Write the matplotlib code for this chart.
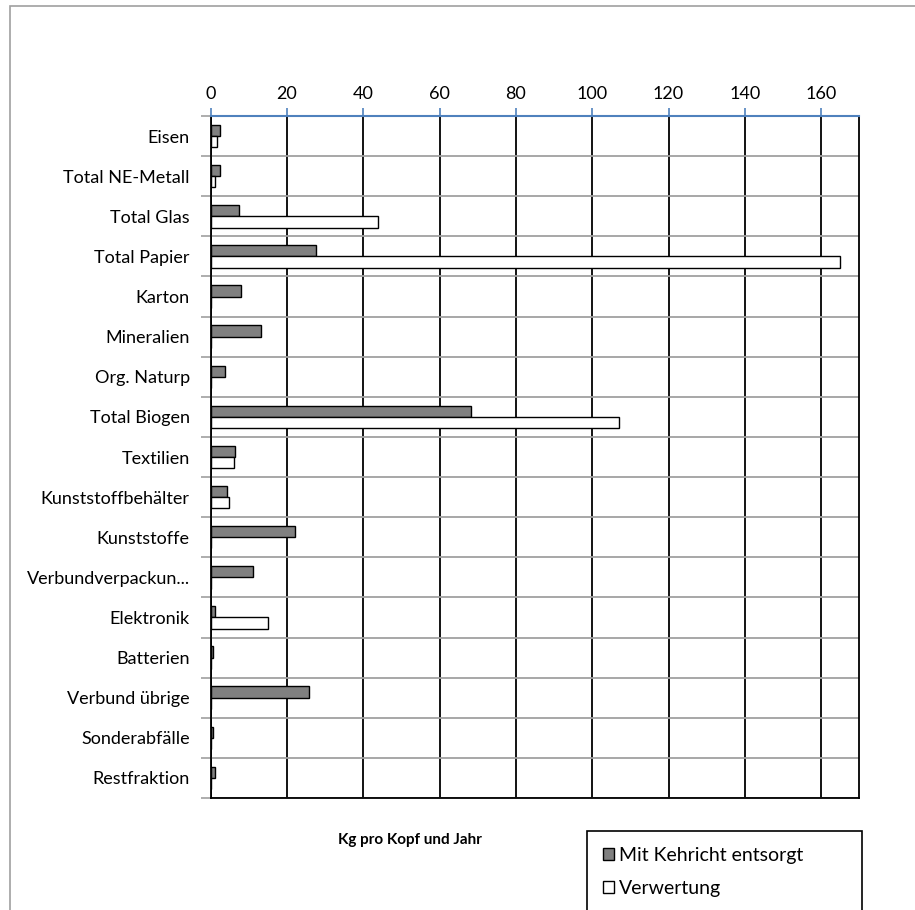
import matplotlib
matplotlib.use("Agg")
import matplotlib.pyplot as plt
from matplotlib.patches import Rectangle
import numpy as np

plt.rcParams['font.family'] = ['Lato', 'DejaVu Sans']

categories = ["Eisen", "Total NE-Metall", "Total Glas", "Total Papier", "Karton",
              "Mineralien", "Org. Naturp", "Total Biogen", "Textilien",
              "Kunststoffbehälter", "Kunststoffe", "Verbundverpackun...",
              "Elektronik", "Batterien", "Verbund übrige", "Sonderabfälle",
              "Restfraktion"]
kehricht = [2.5, 2.4, 7.5, 27.7, 8.0, 13.2, 3.7, 68.3, 6.4, 4.4, 22.1, 11.2,
            1.2, 0.5, 25.7, 0.5, 1.2]
verwertung = [1.7, 1.2, 43.9, 164.9, 0, 0, 0, 107.0, 6.0, 4.9, 0, 0,
              15.1, 0, 0, 0, 0]
series_names = ["Mit Kehricht entsorgt", "Verwertung"]
xticks = [0, 20, 40, 60, 80, 100, 120, 140, 160]
xlabel = "Kg pro Kopf und Jahr"

W, H = 915, 910
fig = plt.figure(figsize=(W / 100, H / 100), dpi=100)

# outer chart frame
fig.patches.append(Rectangle((10 / W, -0.1), 1.2, 1 - 6 / H + 0.1,
                             transform=fig.transFigure, fill=False,
                             edgecolor="#a0a0a0", linewidth=1.2, zorder=0))

ax = fig.add_axes([210.7 / W, 1 - 798 / H, (859.3 - 210.7) / W, (798 - 116) / H])

y = np.arange(len(categories))
h = 0.28
b1 = ax.barh(y - h / 2, kehricht, height=h, color="#808080", edgecolor="black",
             linewidth=1.0, label=series_names[0], zorder=3)
b2 = ax.barh(y + h / 2, verwertung, height=h, color="white", edgecolor="black",
             linewidth=1.0, label=series_names[1], zorder=3)

ax.set_xlim(0, 170)
ax.set_ylim(len(categories) - 0.5, -0.5)
ax.xaxis.tick_top()
ax.set_xticks(xticks)
ax.set_xticklabels([str(t) for t in xticks], fontsize=13)
ax.tick_params(axis="x", direction="out", length=6, color="#4f81bd", width=1.2, pad=4)

ax.set_yticks(y)
ax.set_yticklabels(categories, fontsize=13)
ax.set_yticks(np.arange(-0.5, len(categories) + 0.5, 1), minor=True)
ax.tick_params(axis="y", which="major", length=0, pad=15)
ax.tick_params(axis="y", which="minor", length=7, color="#a0a0a0", width=1.2)

ax.grid(axis="x", color="black", linewidth=1.3, zorder=1)
ax.grid(axis="y", which="minor", color="#a0a0a0", linewidth=1.3, zorder=1)
ax.set_axisbelow(True)

for s in ["left", "right", "bottom"]:
    ax.spines[s].set_color("black")
    ax.spines[s].set_linewidth(1.3)
ax.spines["top"].set_color("#4f81bd")
ax.spines["top"].set_linewidth(1.5)

fig.text(410 / W, 1 - 840 / H, xlabel, fontsize=11, fontweight="bold",
         ha="center", va="center")

leg = fig.legend(handles=[b1, b2], labels=series_names,
                 loc="upper left",
                 bbox_to_anchor=(587 / W, -0.2, 275 / W, 1 - 831 / H + 0.2),
                 mode="expand", fontsize=14, frameon=True, fancybox=False,
                 edgecolor="black", framealpha=1, handlelength=0.6,
                 handleheight=0.6, handletextpad=0.25, labelspacing=0.85,
                 borderpad=0.8, borderaxespad=0)
leg.get_frame().set_linewidth(1.2)

fig.savefig("out.png", dpi=100)
